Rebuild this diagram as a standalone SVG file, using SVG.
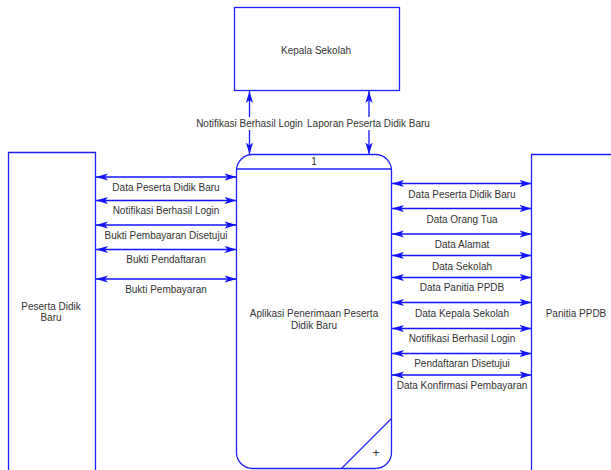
<svg xmlns="http://www.w3.org/2000/svg" width="611" height="470" viewBox="0 0 611 470">
  <style>
    .box { fill: #ffffff; stroke: #2020ff; stroke-width: 1.3; }
    .flow { stroke: #1414ff; stroke-width: 1.3; fill: none; marker-start: url(#head); marker-end: url(#head); }
    .lbl { font-family: "Liberation Sans", Arial, sans-serif; font-size: 10px; fill: #333333; text-anchor: middle; }
    .bg { fill: #ffffff; }
  </style>
  <defs>
    <marker id="head" viewBox="0 -5 12 10" refX="12" refY="0" markerWidth="12" markerHeight="10" markerUnits="userSpaceOnUse" orient="auto-start-reverse">
      <path d="M12,0 L0,-3.6 L3,0 L0,3.6 Z" fill="#1414ff"/>
    </marker>
  </defs>

  <rect width="611" height="470" fill="#ffffff"/>

  <!-- External entity: Kepala Sekolah -->
  <g id="kepala-sekolah">
    <rect class="box" x="234.5" y="7.5" width="165" height="83"/>
    <text class="lbl" x="316" y="53.5">Kepala Sekolah</text>
  </g>

  <!-- External entity: Peserta Didik Baru -->
  <g id="peserta-didik-baru">
    <path class="box" d="M8.5,475 L8.5,152.5 L95.5,152.5 L95.5,475"/>
    <text class="lbl" x="51" y="309.5">Peserta Didik</text>
    <text class="lbl" x="51" y="320.5">Baru</text>
  </g>

  <!-- External entity: Panitia PPDB -->
  <g id="panitia-ppdb">
    <path class="box" d="M620,154.5 L531.5,154.5 L531.5,475"/>
    <text class="lbl" x="576" y="317">Panitia PPDB</text>
  </g>

  <!-- Process 1 -->
  <g id="proses-1">
    <rect class="box" x="236.5" y="154.5" width="155" height="314" rx="16" ry="16"/>
    <line x1="236.5" y1="169" x2="391.5" y2="169" stroke="#2020ff" stroke-width="1.3"/>
    <line x1="341.5" y1="468.5" x2="391.5" y2="418.5" stroke="#2020ff" stroke-width="1.1"/>
    <text class="lbl" x="314" y="165">1</text>
    <text class="lbl" x="314" y="316.5">Aplikasi Penerimaan Peserta</text>
    <text class="lbl" x="314" y="328.5">Didik Baru</text>
    <text class="lbl" x="376" y="457" style="font-size:12px">+</text>
  </g>

  <!-- Data flows -->
  <g id="connectors">
    <!-- Kepala Sekolah <-> Proses -->
    <line class="flow" x1="249.5" y1="91" x2="249.5" y2="154.5"/>
    <line class="flow" x1="369" y1="91" x2="369" y2="154.5"/>
    <rect class="bg" x="196" y="117" width="107" height="13"/>
    <rect class="bg" x="306" y="117" width="125" height="13"/>
    <text class="lbl" x="249.5" y="127">Notifikasi Berhasil Login</text>
    <text class="lbl" x="368.5" y="127">Laporan Peserta Didik Baru</text>

    <!-- Peserta Didik Baru <-> Proses -->
    <line class="flow" x1="96" y1="177" x2="236.5" y2="177"/>
    <text class="lbl" x="166" y="191">Data Peserta Didik Baru</text>
    <line class="flow" x1="96" y1="200.5" x2="236.5" y2="200.5"/>
    <text class="lbl" x="166" y="214">Notifikasi Berhasil Login</text>
    <line class="flow" x1="96" y1="225" x2="236.5" y2="225"/>
    <text class="lbl" x="166" y="239">Bukti Pembayaran Disetujui</text>
    <line class="flow" x1="96" y1="249.5" x2="236.5" y2="249.5"/>
    <text class="lbl" x="166" y="263">Bukti Pendaftaran</text>
    <line class="flow" x1="96" y1="279" x2="236.5" y2="279"/>
    <text class="lbl" x="166" y="292.5">Bukti Pembayaran</text>

    <!-- Proses <-> Panitia PPDB -->
    <line class="flow" x1="392" y1="183.5" x2="531.5" y2="183.5"/>
    <text class="lbl" x="462" y="197.5">Data Peserta Didik Baru</text>
    <line class="flow" x1="392" y1="208.5" x2="531.5" y2="208.5"/>
    <text class="lbl" x="462" y="222.5">Data Orang Tua</text>
    <line class="flow" x1="392" y1="234" x2="531.5" y2="234"/>
    <text class="lbl" x="462" y="248">Data Alamat</text>
    <line class="flow" x1="392" y1="255.5" x2="531.5" y2="255.5"/>
    <text class="lbl" x="462" y="269.5">Data Sekolah</text>
    <line class="flow" x1="392" y1="277.5" x2="531.5" y2="277.5"/>
    <text class="lbl" x="462" y="291">Data Panitia PPDB</text>
    <line class="flow" x1="392" y1="302.5" x2="531.5" y2="302.5"/>
    <text class="lbl" x="462" y="316.5">Data Kepala Sekolah</text>
    <line class="flow" x1="392" y1="328.5" x2="531.5" y2="328.5"/>
    <text class="lbl" x="462" y="342">Notifikasi Berhasil Login</text>
    <line class="flow" x1="392" y1="353.5" x2="531.5" y2="353.5"/>
    <text class="lbl" x="462" y="367">Pendaftaran Disetujui</text>
    <line class="flow" x1="392" y1="375" x2="531.5" y2="375"/>
    <text class="lbl" x="462" y="388.5">Data Konfirmasi Pembayaran</text>
  </g>
</svg>
